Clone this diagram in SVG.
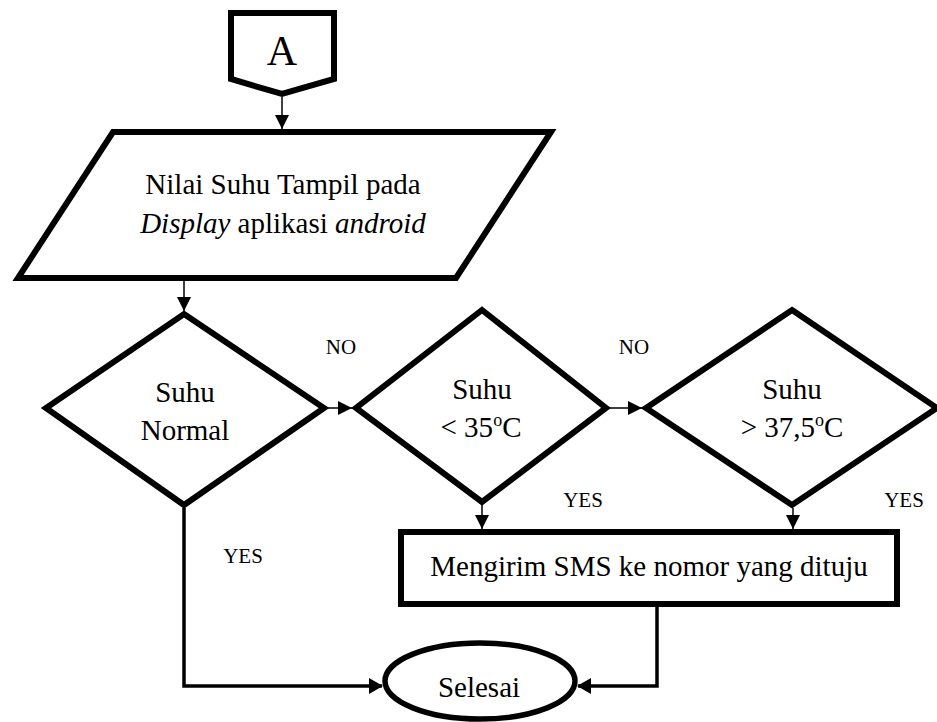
<svg xmlns="http://www.w3.org/2000/svg" width="937" height="722" viewBox="0 0 937 722">
<style>
.shape{fill:#fff;stroke:#000;stroke-width:6;stroke-linejoin:miter}
.t{font-family:"Liberation Serif","Times New Roman",serif;font-size:29px;fill:#000;text-anchor:middle}
.lbl{font-family:"Liberation Serif","Times New Roman",serif;font-size:21px;fill:#000;text-anchor:middle}
.c{fill:none;stroke:#000;stroke-width:1.5}
.cb{fill:none;stroke:#000;stroke-width:3.5}
</style>
<defs>
<marker id="ah" markerUnits="userSpaceOnUse" markerWidth="14" markerHeight="14" refX="14" refY="7" orient="auto">
<path d="M0,0 L14,7 L0,14 z" fill="#000"/>
</marker>
<marker id="ahb" markerUnits="userSpaceOnUse" markerWidth="14" markerHeight="16" refX="13" refY="8" orient="auto">
<path d="M0,0 L14,8 L0,16 z" fill="#000"/>
</marker>
</defs>
<g id="connectors">
<line class="c" x1="282" y1="97" x2="282" y2="129" marker-end="url(#ah)"/>
<line class="c" x1="184" y1="281" x2="184" y2="311" marker-end="url(#ah)"/>
<line class="c" x1="327" y1="408" x2="352" y2="408" marker-end="url(#ah)"/>
<line class="c" x1="609" y1="408" x2="642" y2="408" marker-end="url(#ah)"/>
<line class="c" x1="482" y1="505" x2="482" y2="529" marker-end="url(#ah)"/>
<line class="c" x1="793" y1="508" x2="793" y2="529" marker-end="url(#ah)"/>
<polyline class="cb" points="184,508 184,686 382,686" marker-end="url(#ahb)"/>
<polyline class="cb" points="657,607 657,686 578,686" marker-end="url(#ahb)"/>
</g>
<g id="lbl-no1"><text class="lbl" x="341" y="354">NO</text></g>
<g id="lbl-no2"><text class="lbl" x="634" y="354">NO</text></g>
<g id="lbl-yes1"><text class="lbl" x="243" y="563">YES</text></g>
<g id="lbl-yes2"><text class="lbl" x="583" y="507">YES</text></g>
<g id="lbl-yes3"><text class="lbl" x="904" y="507">YES</text></g>
<g id="connector-a">
<polygon class="shape" points="231,13 334,13 334,79 282,94 231,79"/>
<text class="t" x="282" y="65" style="font-size:42px">A</text>
</g>
<g id="display">
<polygon class="shape" points="113,132 551,132 456,278 18,278"/>
<text class="t" x="283" y="194">Nilai Suhu Tampil pada</text>
<text class="t" x="283" y="233"><tspan font-style="italic">Display</tspan> aplikasi <tspan font-style="italic">android</tspan></text>
</g>
<g id="dec-normal">
<polygon class="shape" points="184,314 324,408 184,505 46,408"/>
<text class="t" x="185" y="402">Suhu</text>
<text class="t" x="185" y="440">Normal</text>
</g>
<g id="dec-low">
<polygon class="shape" points="482,310 606,408 482,502 356,408"/>
<text class="t" x="482" y="399">Suhu</text>
<text class="t" x="481" y="437">&lt; 35<tspan dy="-11" font-size="18">o</tspan><tspan dy="11">C</tspan></text>
</g>
<g id="dec-high">
<polygon class="shape" points="792,310 937,408 792,505 646,408"/>
<text class="t" x="792" y="399">Suhu</text>
<text class="t" x="792" y="437">&gt; 37,5<tspan dy="-11" font-size="18">o</tspan><tspan dy="11">C</tspan></text>
</g>
<g id="send-sms">
<rect class="shape" x="401" y="532" width="496" height="72"/>
<text class="t" x="649" y="576">Mengirim SMS ke nomor yang dituju</text>
</g>
<g id="selesai">
<ellipse class="shape" cx="480" cy="681" rx="95" ry="38" style="stroke-width:5.5"/>
<text class="t" x="479" y="697">Selesai</text>
</g>
</svg>
